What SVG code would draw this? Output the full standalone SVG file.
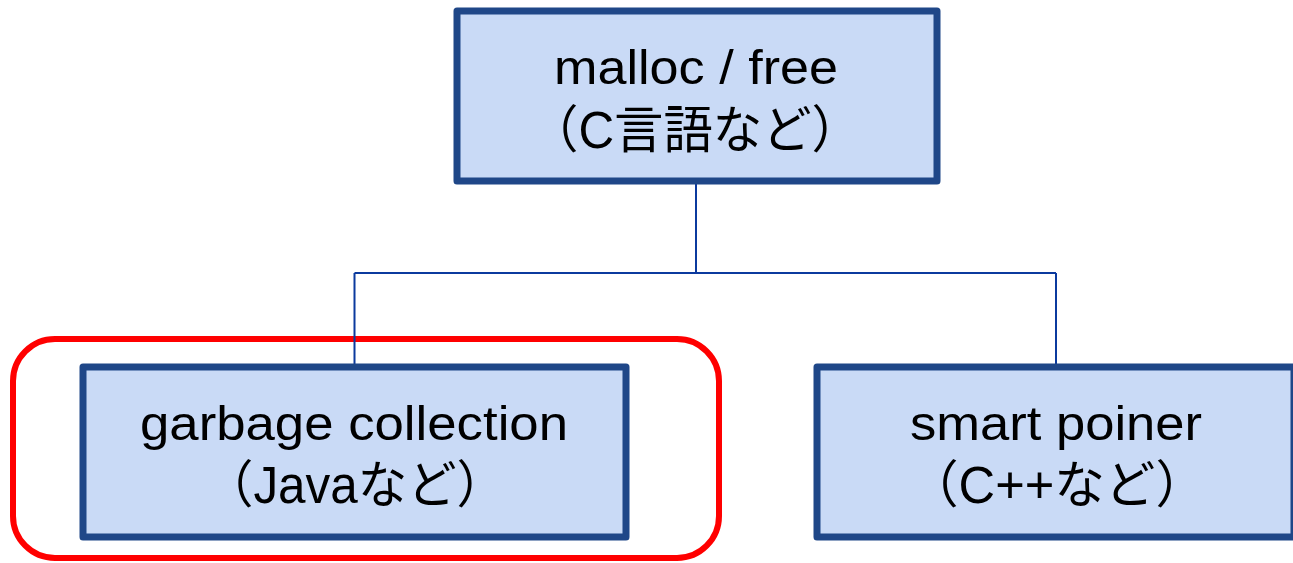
<svg xmlns="http://www.w3.org/2000/svg" width="1293" height="563" viewBox="0 0 1293 563">
  <style>
    .box { fill: #C9DAF6; stroke: #1F4788; stroke-width: 7; stroke-linejoin: round; }
    .conn { fill: none; stroke: #0B3A9E; stroke-width: 2; }
    .hl { fill: none; stroke: #FF0000; stroke-width: 6; }
    .t { font-family: "Liberation Sans", "Noto Sans CJK JP", sans-serif; font-size: 48px; fill: #000000; text-anchor: middle; }
    .t2 { font-size: 51px; }
  </style>
  <rect width="1293" height="563" fill="#FFFFFF"/>
  <g id="highlight">
    <rect class="hl" x="13" y="339" width="706" height="219" rx="42" ry="42"/>
  </g>
  <g id="connectors">
    <path class="conn" d="M696,184 V273 M354.5,273 H1056 M354.5,273 V364 M1056,273 V364"/>
  </g>
  <g id="node-malloc">
    <rect class="box" x="457" y="11" width="480" height="170"/>
    <text class="t" x="696" y="84" textLength="284" lengthAdjust="spacingAndGlyphs">malloc / free</text>
    <text class="t t2" x="695" y="148" textLength="332" lengthAdjust="spacingAndGlyphs">（C言語など）</text>
  </g>
  <g id="node-gc">
    <rect class="box" x="83" y="367" width="543" height="170"/>
    <text class="t" x="354" y="440" textLength="428" lengthAdjust="spacingAndGlyphs">garbage collection</text>
    <text class="t t2" x="355" y="503" textLength="302" lengthAdjust="spacingAndGlyphs">（Javaなど）</text>
  </g>
  <g id="node-smart">
    <rect class="box" x="817" y="367" width="477" height="170"/>
    <text class="t" x="1056" y="440" textLength="292" lengthAdjust="spacingAndGlyphs">smart poiner</text>
    <text class="t t2" x="1057" y="503" textLength="298" lengthAdjust="spacingAndGlyphs">（C++など）</text>
  </g>
</svg>
